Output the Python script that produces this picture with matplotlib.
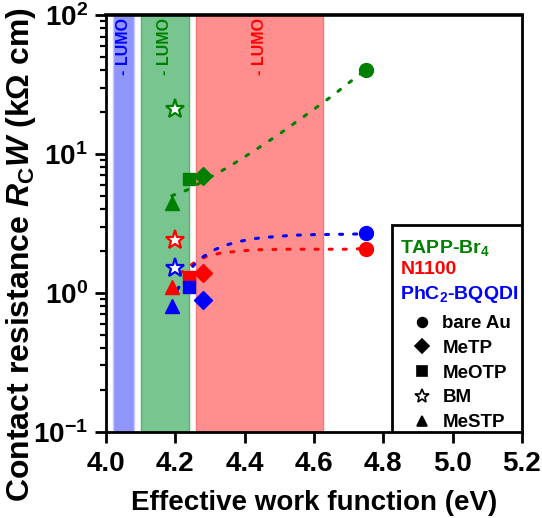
import matplotlib
matplotlib.use('Agg')
import matplotlib.pyplot as plt
from matplotlib.lines import Line2D
from matplotlib.patches import Rectangle
from matplotlib.ticker import LogLocator, NullFormatter, FixedLocator

plt.rcParams['font.family'] = 'Liberation Sans'
plt.rcParams['font.weight'] = 'bold'
plt.rcParams['mathtext.fontset'] = 'custom'
plt.rcParams['mathtext.rm'] = 'Liberation Sans:bold'
plt.rcParams['mathtext.it'] = 'Liberation Sans:bold:italic'
plt.rcParams['mathtext.bf'] = 'Liberation Sans:bold'

# --- data (work function in eV, R_c W in kOhm cm) ---
compounds = ['TAPP-Br$_4$', 'N1100', 'PhC$_2$-BQQDI']
colors = ['#008000', '#ff0000', '#0000ff']

sam_names = ['bare Au', 'MeTP', 'MeOTP', 'BM', 'MeSTP']
sam_markers = ['o', 'D', 's', '*', '^']
sam_wf = [4.75, 4.28, 4.24, 4.20, 4.19]

rc_tapp = [40.5, 6.9, 6.6, 21.0, 4.4]
rc_n1100 = [2.08, 1.40, 1.30, 2.40, 1.11]
rc_bqqdi = [2.70, 0.89, 1.10, 1.50, 0.81]

# dotted guide curves
fit_tapp_x = [4.19, 4.234, 4.31, 4.351, 4.389, 4.429, 4.468, 4.507, 4.546, 4.585, 4.622, 4.658, 4.694, 4.73, 4.75]
fit_tapp_y = [5.0, 5.5, 7.0, 8.0, 9.15, 10.6, 12.3, 14.3, 16.8, 19.7, 23.0, 26.8, 31.6, 37.0, 40.5]
fit_n1100_x = [4.214, 4.252, 4.29, 4.33, 4.378, 4.43, 4.473, 4.526, 4.583, 4.638, 4.69, 4.75]
fit_n1100_y = [1.38, 1.63, 1.83, 1.93, 1.99, 2.04, 2.05, 2.06, 2.06, 2.06, 2.06, 2.08]
fit_bqqdi_x = [4.206, 4.23, 4.265, 4.305, 4.342, 4.383, 4.43, 4.48, 4.533, 4.583, 4.638, 4.69, 4.75]
fit_bqqdi_y = [1.05, 1.35, 1.71, 2.0, 2.19, 2.34, 2.46, 2.53, 2.59, 2.62, 2.63, 2.64, 2.66]

# -LUMO ranges (eV)
lumo_ranges = [(4.02, 4.08), (4.10, 4.24), (4.26, 4.625)]
lumo_fill = ['#8f95fb', '#79c58f', '#ff8f8f']
lumo_edge = ['#c8caff', '#5fae74', '#f07a7a']
lumo_text = ['#0000ff', '#008000', '#ff0000']

x_ticks = [4.0, 4.2, 4.4, 4.6, 4.8, 5.0, 5.2]

# --- figure ---
fig = plt.figure(figsize=(5.42, 5.18), dpi=100)
ax = fig.add_axes([0.1956, 0.1666, 0.7674, 0.8044])

for (lo, hi), fc, ec, tc in zip(lumo_ranges, lumo_fill, lumo_edge, lumo_text):
    ax.axvspan(lo, hi, facecolor=fc, edgecolor=ec, linewidth=1.0, zorder=0)
    ax.text((lo + hi) / 2, 0.993, '- LUMO', rotation=90, color=tc, fontsize=11.5,
            fontweight='bold', ha='center', va='top', transform=ax.get_xaxis_transform())

dot_kw = dict(linestyle=(0, (1.0, 3.6)), linewidth=2.2, dash_capstyle='round', zorder=2)
ax.plot(fit_tapp_x, fit_tapp_y, color=colors[0], **dot_kw)
ax.plot(fit_n1100_x, fit_n1100_y, color=colors[1], **dot_kw)
ax.plot(fit_bqqdi_x, fit_bqqdi_y, color=colors[2], **dot_kw)

sizes = {'o': 10, 'D': 9, 's': 9.0, '*': 14, '^': 10.5}
for col, vals in zip(colors, [rc_tapp, rc_n1100, rc_bqqdi]):
    for m, x, y in zip(sam_markers, sam_wf, vals):
        if m == '*':
            ax.plot(x, y, marker=m, ms=sizes[m], mfc='white', mec=col, mew=1.6,
                    linestyle='none', zorder=3)
        else:
            ax.plot(x, y, marker=m, ms=sizes[m], color=col, linestyle='none', zorder=3)

ax.set_yscale('log')
ax.set_xlim(4.0, 5.2)
ax.set_ylim(0.1, 100)
ax.xaxis.set_major_locator(FixedLocator(x_ticks))
ax.set_xticklabels([f'{t:.1f}' for t in x_ticks])
ax.yaxis.set_major_locator(LogLocator(base=10, numticks=10))
ax.yaxis.set_minor_locator(LogLocator(base=10, subs=range(2, 10), numticks=20))
ax.yaxis.set_minor_formatter(NullFormatter())

for s in ax.spines.values():
    s.set_linewidth(2.0)
ax.spines['top'].set_linewidth(2.6)
ax.tick_params(axis='both', which='major', direction='out', length=8, width=2,
               labelsize=20)
ax.tick_params(axis='x', which='major', pad=6)
ax.tick_params(axis='y', which='major', pad=5)
ax.tick_params(axis='y', which='minor', direction='out', length=4.5, width=1.6)
for lab in ax.get_xticklabels() + ax.get_yticklabels():
    lab.set_fontweight('bold')

ax.set_xlabel('Effective work function (eV)', fontsize=20, fontweight='bold', labelpad=9)
ax.set_ylabel(r'Contact resistance $R_{\mathrm{C}}W$ (k$\Omega$ cm)', fontsize=23,
              fontweight='bold')
ax.yaxis.set_label_coords(-0.163, 0.424)

# legend box
ax.add_patch(Rectangle((0.687, 0.0), 0.313, 0.496, transform=ax.transAxes,
                       facecolor='white', edgecolor='black', linewidth=2.0, zorder=5))
name_y = [0.442, 0.390, 0.330]
for name, col, yy in zip(compounds, colors, name_y):
    ax.text(0.708, yy, name, color=col, fontsize=14, fontweight='bold',
            ha='left', va='center', transform=ax.transAxes, zorder=6)

handles = [Line2D([], [], marker=m, color='black', mfc=('white' if m == '*' else 'black'),
                  mec='black', mew=1.2, ms=(10 if m == '*' else 7), linestyle='none')
           for m in sam_markers]
leg = ax.legend(handles, sam_names, loc='lower left', bbox_to_anchor=(0.705, -0.030),
                frameon=False, handlelength=1.0, handletextpad=0.6,
                labelspacing=0.405, borderpad=0.2, prop={'weight': 'bold', 'size': 13.5})
leg.set_zorder(7)

fig.savefig('out.png', dpi=100)
